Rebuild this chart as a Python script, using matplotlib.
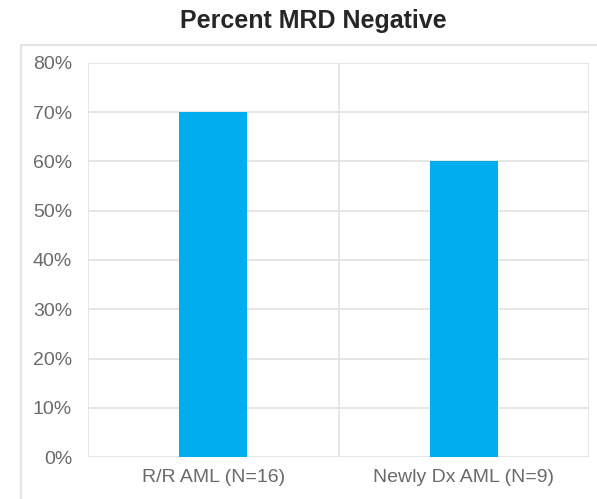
import matplotlib.pyplot as plt
from matplotlib.patches import Rectangle

plt.rcParams['font.family'] = ['Liberation Sans', 'DejaVu Sans']

# 数据
groups = ['R/R AML (N=16)', 'Newly Dx AML (N=9)']
mrd_negative = [70, 60]
y_ticks = [0, 10, 20, 30, 40, 50, 60, 70, 80]

W, H = 597, 499
fig = plt.figure(figsize=(W / 100, H / 100), dpi=100)

# 外框（图表区）
fig.patches.append(Rectangle((21 / W, -0.05), 1.0, 1.05 - 45 / H,
                             transform=fig.transFigure, fill=False,
                             edgecolor='#E4E4E4', linewidth=1.5))

ax = fig.add_axes([88 / W, 1 - 457 / H, (589 - 88) / W, (457 - 63) / H])
x = range(len(groups))
ax.bar(x, mrd_negative, width=0.27, color='#00AEEF', zorder=3)

ax.set_xlim(-0.5, len(groups) - 0.5)
ax.set_ylim(0, 80)
ax.set_yticks(y_ticks)
ax.set_yticklabels([f'{v}%' for v in y_ticks])
ax.set_xticks(list(x))
ax.set_xticklabels(groups)

# 网格线：水平线 + 类别分隔竖线
for v in y_ticks:
    ax.axhline(v, color='#E2E2E2', linewidth=1.2, zorder=1)
for b in [-0.5, 0.5, 1.5]:
    ax.axvline(b, color='#E2E2E2', linewidth=1.2, zorder=1)

for s in ax.spines.values():
    s.set_visible(False)
ax.tick_params(axis='both', length=0, labelsize=14, labelcolor='#6A6A6A')
ax.tick_params(axis='y', pad=11.5)
ax.tick_params(axis='x', pad=9)

fig.text(313 / W, 1 - 21 / H, 'Percent MRD Negative', ha='center', va='center',
         fontsize=18, fontweight='bold', color='#262626')

fig.savefig('out.png', dpi=100)
